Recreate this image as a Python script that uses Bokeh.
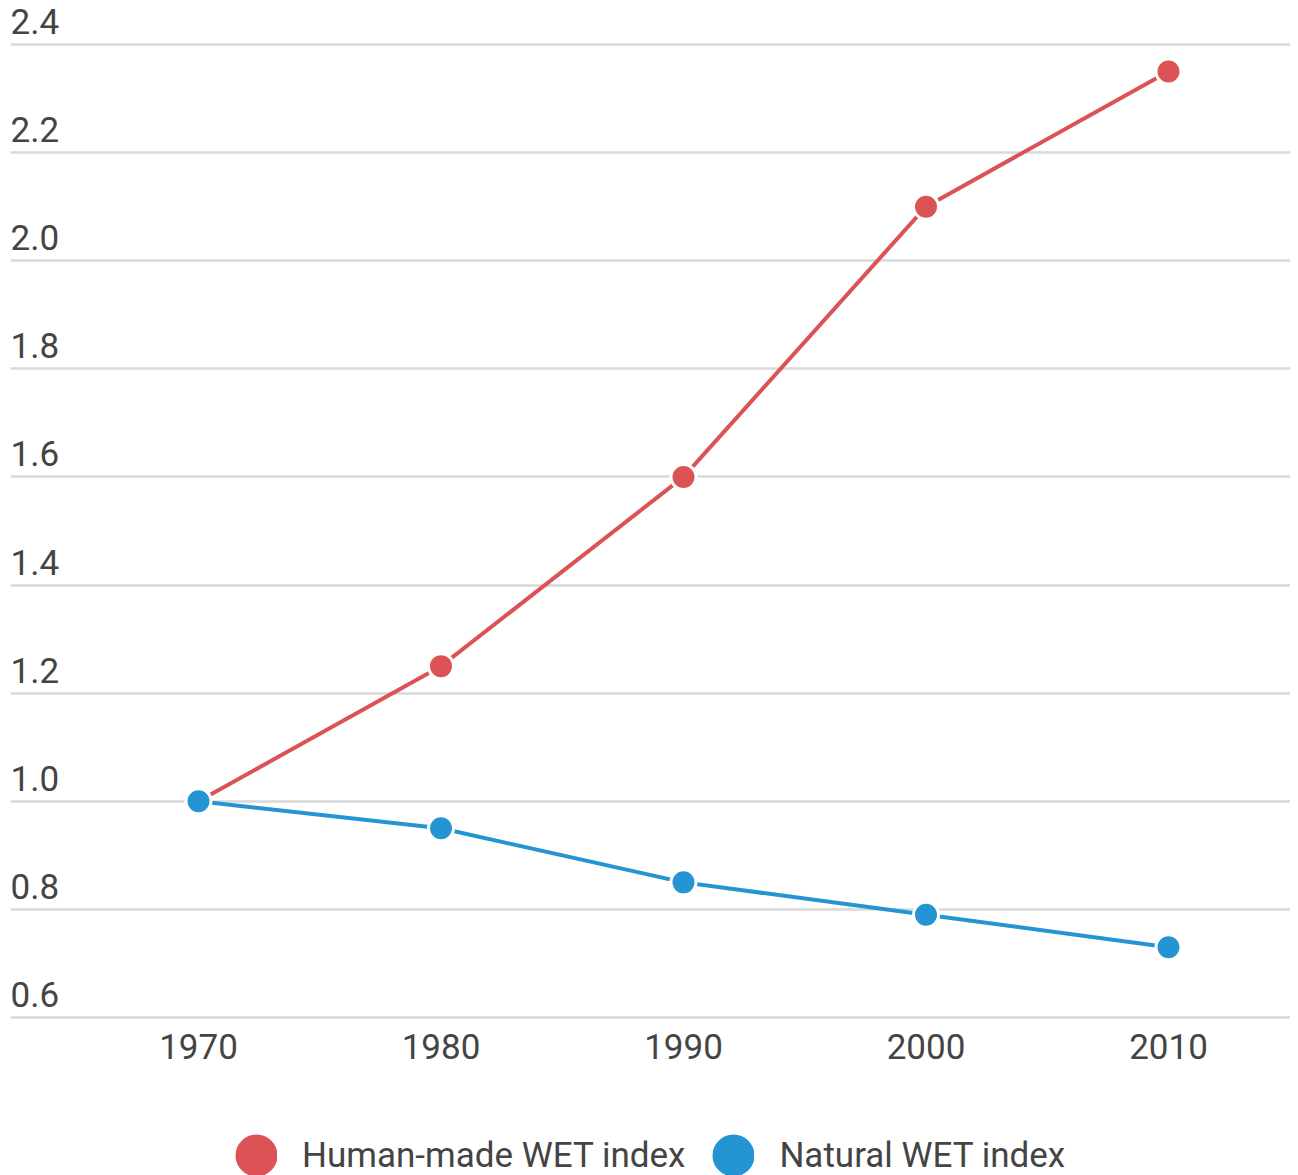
from bokeh.plotting import figure
from bokeh.models import FixedTicker, Legend, LegendItem, ColumnDataSource, Range1d
from bokeh.core.properties import value
from bokeh.embed import file_html
from bokeh.resources import INLINE

years = [1970, 1980, 1990, 2000, 2010]
year_labels = ["1970", "1980", "1990", "2000", "2010"]
human_made = [1.0, 1.25, 1.6, 2.1, 2.35]
natural = [1.0, 0.95, 0.85, 0.79, 0.73]
y_ticks = [0.6, 0.8, 1.0, 1.2, 1.4, 1.6, 1.8, 2.0, 2.2, 2.4]
y_tick_labels = ["0.6", "0.8", "1.0", "1.2", "1.4", "1.6", "1.8", "2.0", "2.2", "2.4"]
series_names = ["Human-made WET index", "Natural WET index"]

RED = "#dc5356"
BLUE = "#2494d2"
TEXT = "#444444"
FONT = "Roboto"
FS = "35px"
NAN = float("nan")

x0, x1 = 1962.247, 2015.031
y0, y1 = 0.3077, 2.4814

p = figure(width=1290, height=1175, output_backend="svg", toolbar_location=None,
           x_range=Range1d(x0, x1), y_range=Range1d(y0, y1),
           min_border_left=10, min_border_right=0, min_border_top=0, min_border_bottom=0,
           x_axis_location=None, y_axis_location=None)
p.outline_line_color = None
p.background_fill_color = "white"
p.border_fill_color = "white"

p.xgrid.visible = False
p.ygrid.ticker = FixedTicker(ticks=y_ticks)
p.ygrid.grid_line_color = "#d9d9d9"
p.ygrid.grid_line_width = 2.5

# y tick labels above grid lines
ysrc = ColumnDataSource(dict(x=[x0] * len(y_ticks), y=y_ticks, t=y_tick_labels))
p.text(x="x", y="y", text="t", source=ysrc, text_font=value(FONT), text_font_size=FS,
       text_color=TEXT, text_align="left", text_baseline="alphabetic", y_offset=-23)

# x tick labels below the lowest grid line
xsrc = ColumnDataSource(dict(x=years, y=[y_ticks[0]] * len(years), t=year_labels))
p.text(x="x", y="y", text="t", source=xsrc, text_font=value(FONT), text_font_size=FS,
       text_color=TEXT, text_align="center", text_baseline="alphabetic", y_offset=29)

p.line(years, human_made, line_color=RED, line_width=4)
p.scatter(years, human_made, size=25, fill_color=RED, line_color="white", line_width=3)
p.line(years, natural, line_color=BLUE, line_width=4)
p.scatter(years, natural, size=25, fill_color=BLUE, line_color="white", line_width=3)

# legend swatches (no visible data): small circle + thick same-colour outline = 42px dot
leg_h = p.scatter(x=[NAN], y=[NAN], size=10, fill_color=RED, line_color=RED, line_width=25.2)
leg_n = p.scatter(x=[NAN], y=[NAN], size=10, fill_color=BLUE, line_color=BLUE, line_width=25.2)

legend = Legend(items=[LegendItem(label=series_names[0], renderers=[leg_h]),
                       LegendItem(label=series_names[1], renderers=[leg_n])],
                orientation="horizontal", location=(225, -1),
                glyph_width=42, glyph_height=42, label_height=42,
                label_standoff=25, spacing=27, padding=0, margin=0,
                border_line_color=None, background_fill_alpha=0,
                label_text_font=FONT, label_text_font_size=FS, label_text_color=TEXT)
p.add_layout(legend, "center")

open("out.html", "w").write(file_html(p, INLINE))
